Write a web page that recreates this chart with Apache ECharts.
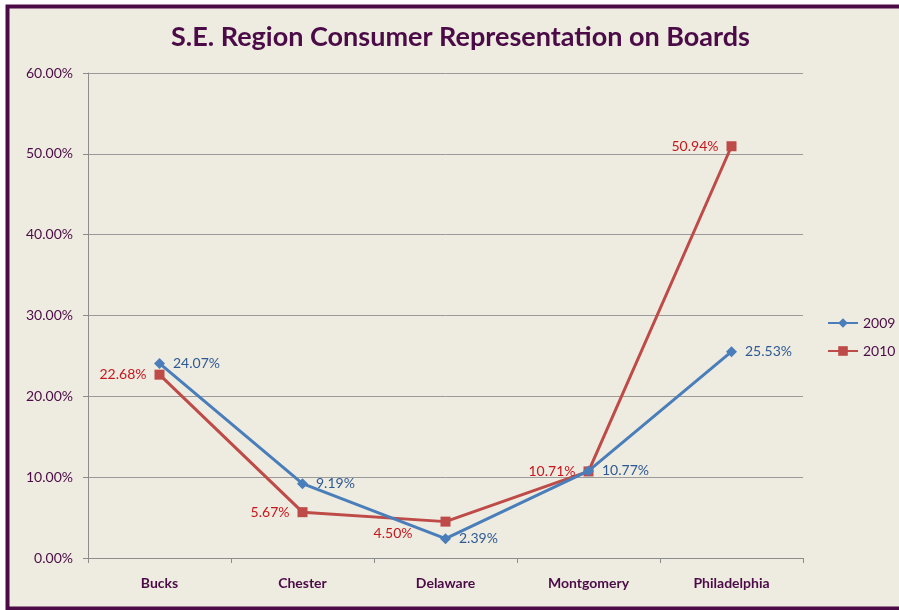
<!DOCTYPE html>
<html>
<head>
<meta charset="utf-8">
<script src="https://cdn.jsdelivr.net/npm/echarts@6/dist/echarts.min.js"></script>
<style>
  html, body { margin: 0; padding: 0; background: #ffffff; }
  #chart { width: 899px; height: 610px; }
</style>
</head>
<body>
<div id="chart"></div>
<script>
// Counties on the category axis
const counties = ['Bucks', 'Chester', 'Delaware', 'Montgomery', 'Philadelphia'];
// Share of board seats held by consumers (%)
const share2009 = [24.07, 9.19, 2.39, 10.77, 25.53];
const share2010 = [22.68, 5.67, 4.50, 10.71, 50.94];
// Value-axis range and step (%)
const yMin = 0, yMax = 60, yStep = 10;

const purple = '#4A0B47';
const blueLine = '#4A7EBB';
const redLine = '#BE4B48';
const blueText = '#2E5A94';
const redText = '#C8161D';
const font = 'Lato, "Open Sans", sans-serif';

const chart = echarts.init(document.getElementById('chart'), null, { renderer: 'canvas' });

const fmt = v => v.toFixed(2) + '%';

chart.setOption({
  backgroundColor: '#ffffff',
  animation: false,
  graphic: [{
    type: 'rect',
    z: -10,
    shape: { x: 7.5, y: 6.5, width: 1000, height: 602 },
    style: { fill: '#EEEBE0', stroke: purple, lineWidth: 4 }
  }],
  title: {
    text: 'S.E. Region Consumer Representation on Boards',
    left: 166,
    top: 19,
    textStyle: { fontFamily: font, fontWeight: 'bold', fontSize: 27, color: purple }
  },
  legend: {
    orient: 'vertical',
    left: 822,
    top: 311,
    itemWidth: 30,
    itemHeight: 12,
    itemGap: 14,
    textStyle: { fontFamily: font, fontSize: 14, color: purple },
    data: ['2009', '2010']
  },
  grid: { left: 88, right: 96, top: 73, bottom: 52 },
  xAxis: {
    type: 'category',
    data: counties,
    boundaryGap: true,
    axisLine: { lineStyle: { color: '#8C8C8C', width: 1 } },
    axisTick: { show: true, length: 5, lineStyle: { color: '#8C8C8C' } },
    axisLabel: { fontFamily: font, fontWeight: 'bold', fontSize: 14, color: purple, margin: 18 }
  },
  yAxis: {
    type: 'value',
    min: yMin, max: yMax, interval: yStep,
    axisLine: { show: true, lineStyle: { color: '#8C8C8C', width: 1 } },
    axisTick: { show: true, length: 5, lineStyle: { color: '#8C8C8C' } },
    splitLine: { lineStyle: { color: '#9A9A9A', width: 1 } },
    axisLabel: {
      fontFamily: font, fontSize: 14, color: purple, margin: 15,
      formatter: v => v.toFixed(2) + '%'
    }
  },
  series: [
    {
      name: '2009',
      type: 'line',
      data: share2009,
      symbol: 'diamond',
      symbolSize: 11,
      itemStyle: { color: blueLine },
      lineStyle: { color: blueLine, width: 3 },
      label: {
        show: true, position: 'right', distance: 8,
        fontFamily: font, fontSize: 14, color: blueText,
        formatter: p => fmt(p.value)
      },
      z: 3
    },
    {
      name: '2010',
      type: 'line',
      data: share2010.map((v, i) => i === 2
        ? { value: v, label: { position: 'left', offset: [-20, 12] } }
        : v),
      symbol: 'rect',
      symbolSize: 10,
      itemStyle: { color: redLine },
      lineStyle: { color: redLine, width: 3 },
      label: {
        show: true, position: 'left', distance: 8,
        fontFamily: font, fontSize: 14, color: redText,
        formatter: p => fmt(p.value)
      },
      z: 2
    }
  ]
});
</script>
</body>
</html>
